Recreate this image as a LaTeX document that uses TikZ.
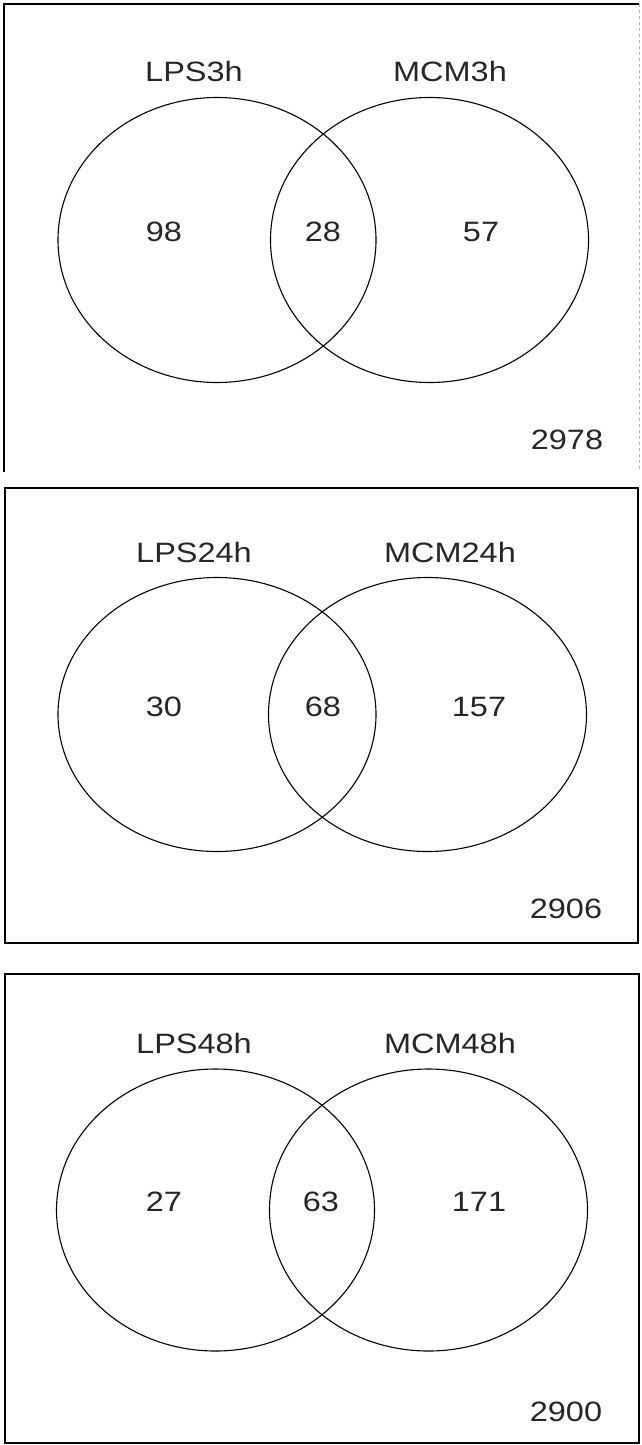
\documentclass[tikz,border=0pt]{standalone}
\usepackage{fontspec}
\setmainfont{Liberation Sans}[FakeStretch=1.16]
\usetikzlibrary{shapes.geometric}

\begin{document}
\begin{tikzpicture}[
    x=1pt, y=-1pt,
    setcirc/.style={draw, ellipse, line width=1.1pt, inner sep=0pt, minimum width=318pt},
    frame/.style={draw, line width=1.4pt},
    lbl/.style={font=\fontsize{28}{32}\selectfont, text=black!85, inner sep=0pt}
]
\useasboundingbox (0,0) rectangle (642,1445);

% panel 1
\draw[frame] (4,472) -- (4,4) -- (639,4);
\draw[black!30, line width=0.8pt, dashed] (639,4) -- (639,472);
\node[setcirc, minimum height=285pt] (lps3) at (217,240) {};
\node[setcirc, minimum height=285pt] (mcm3) at (429.5,240) {};
\node[lbl] (lps3lbl) at (194,71) {LPS3h};
\node[lbl] (mcm3lbl) at (450,71) {MCM3h};
\node[lbl] (lps3only) at (164,232) {98};
\node[lbl] (both3) at (323,232) {28};
\node[lbl] (mcm3only) at (481,232) {57};
\node[lbl] (rest3) at (567,440) {2978};

% panel 2
\draw[frame] (5,488) rectangle (638,943);
\node[setcirc, minimum height=274pt] (lps24) at (217,714.5) {};
\node[setcirc, minimum height=274pt] (mcm24) at (427.5,714.5) {};
\node[lbl] (lps24lbl) at (194,552) {LPS24h};
\node[lbl] (mcm24lbl) at (450,552) {MCM24h};
\node[lbl] (lps24only) at (164,707) {30};
\node[lbl] (both24) at (323,707) {68};
\node[lbl] (mcm24only) at (479,707) {157};
\node[lbl] (rest24) at (566,909) {2906};

% panel 3
\draw[frame] (5,974) rectangle (639,1443);
\node[setcirc, minimum height=282pt] (lps48) at (215.5,1210) {};
\node[setcirc, minimum height=282pt] (mcm48) at (428.5,1210) {};
\node[lbl] (lps48lbl) at (194,1043) {LPS48h};
\node[lbl] (mcm48lbl) at (450,1043) {MCM48h};
\node[lbl] (lps48only) at (164,1202) {27};
\node[lbl] (both48) at (321,1202) {63};
\node[lbl] (mcm48only) at (479,1202) {171};
\node[lbl] (rest48) at (566,1412) {2900};
\end{tikzpicture}
\end{document}
